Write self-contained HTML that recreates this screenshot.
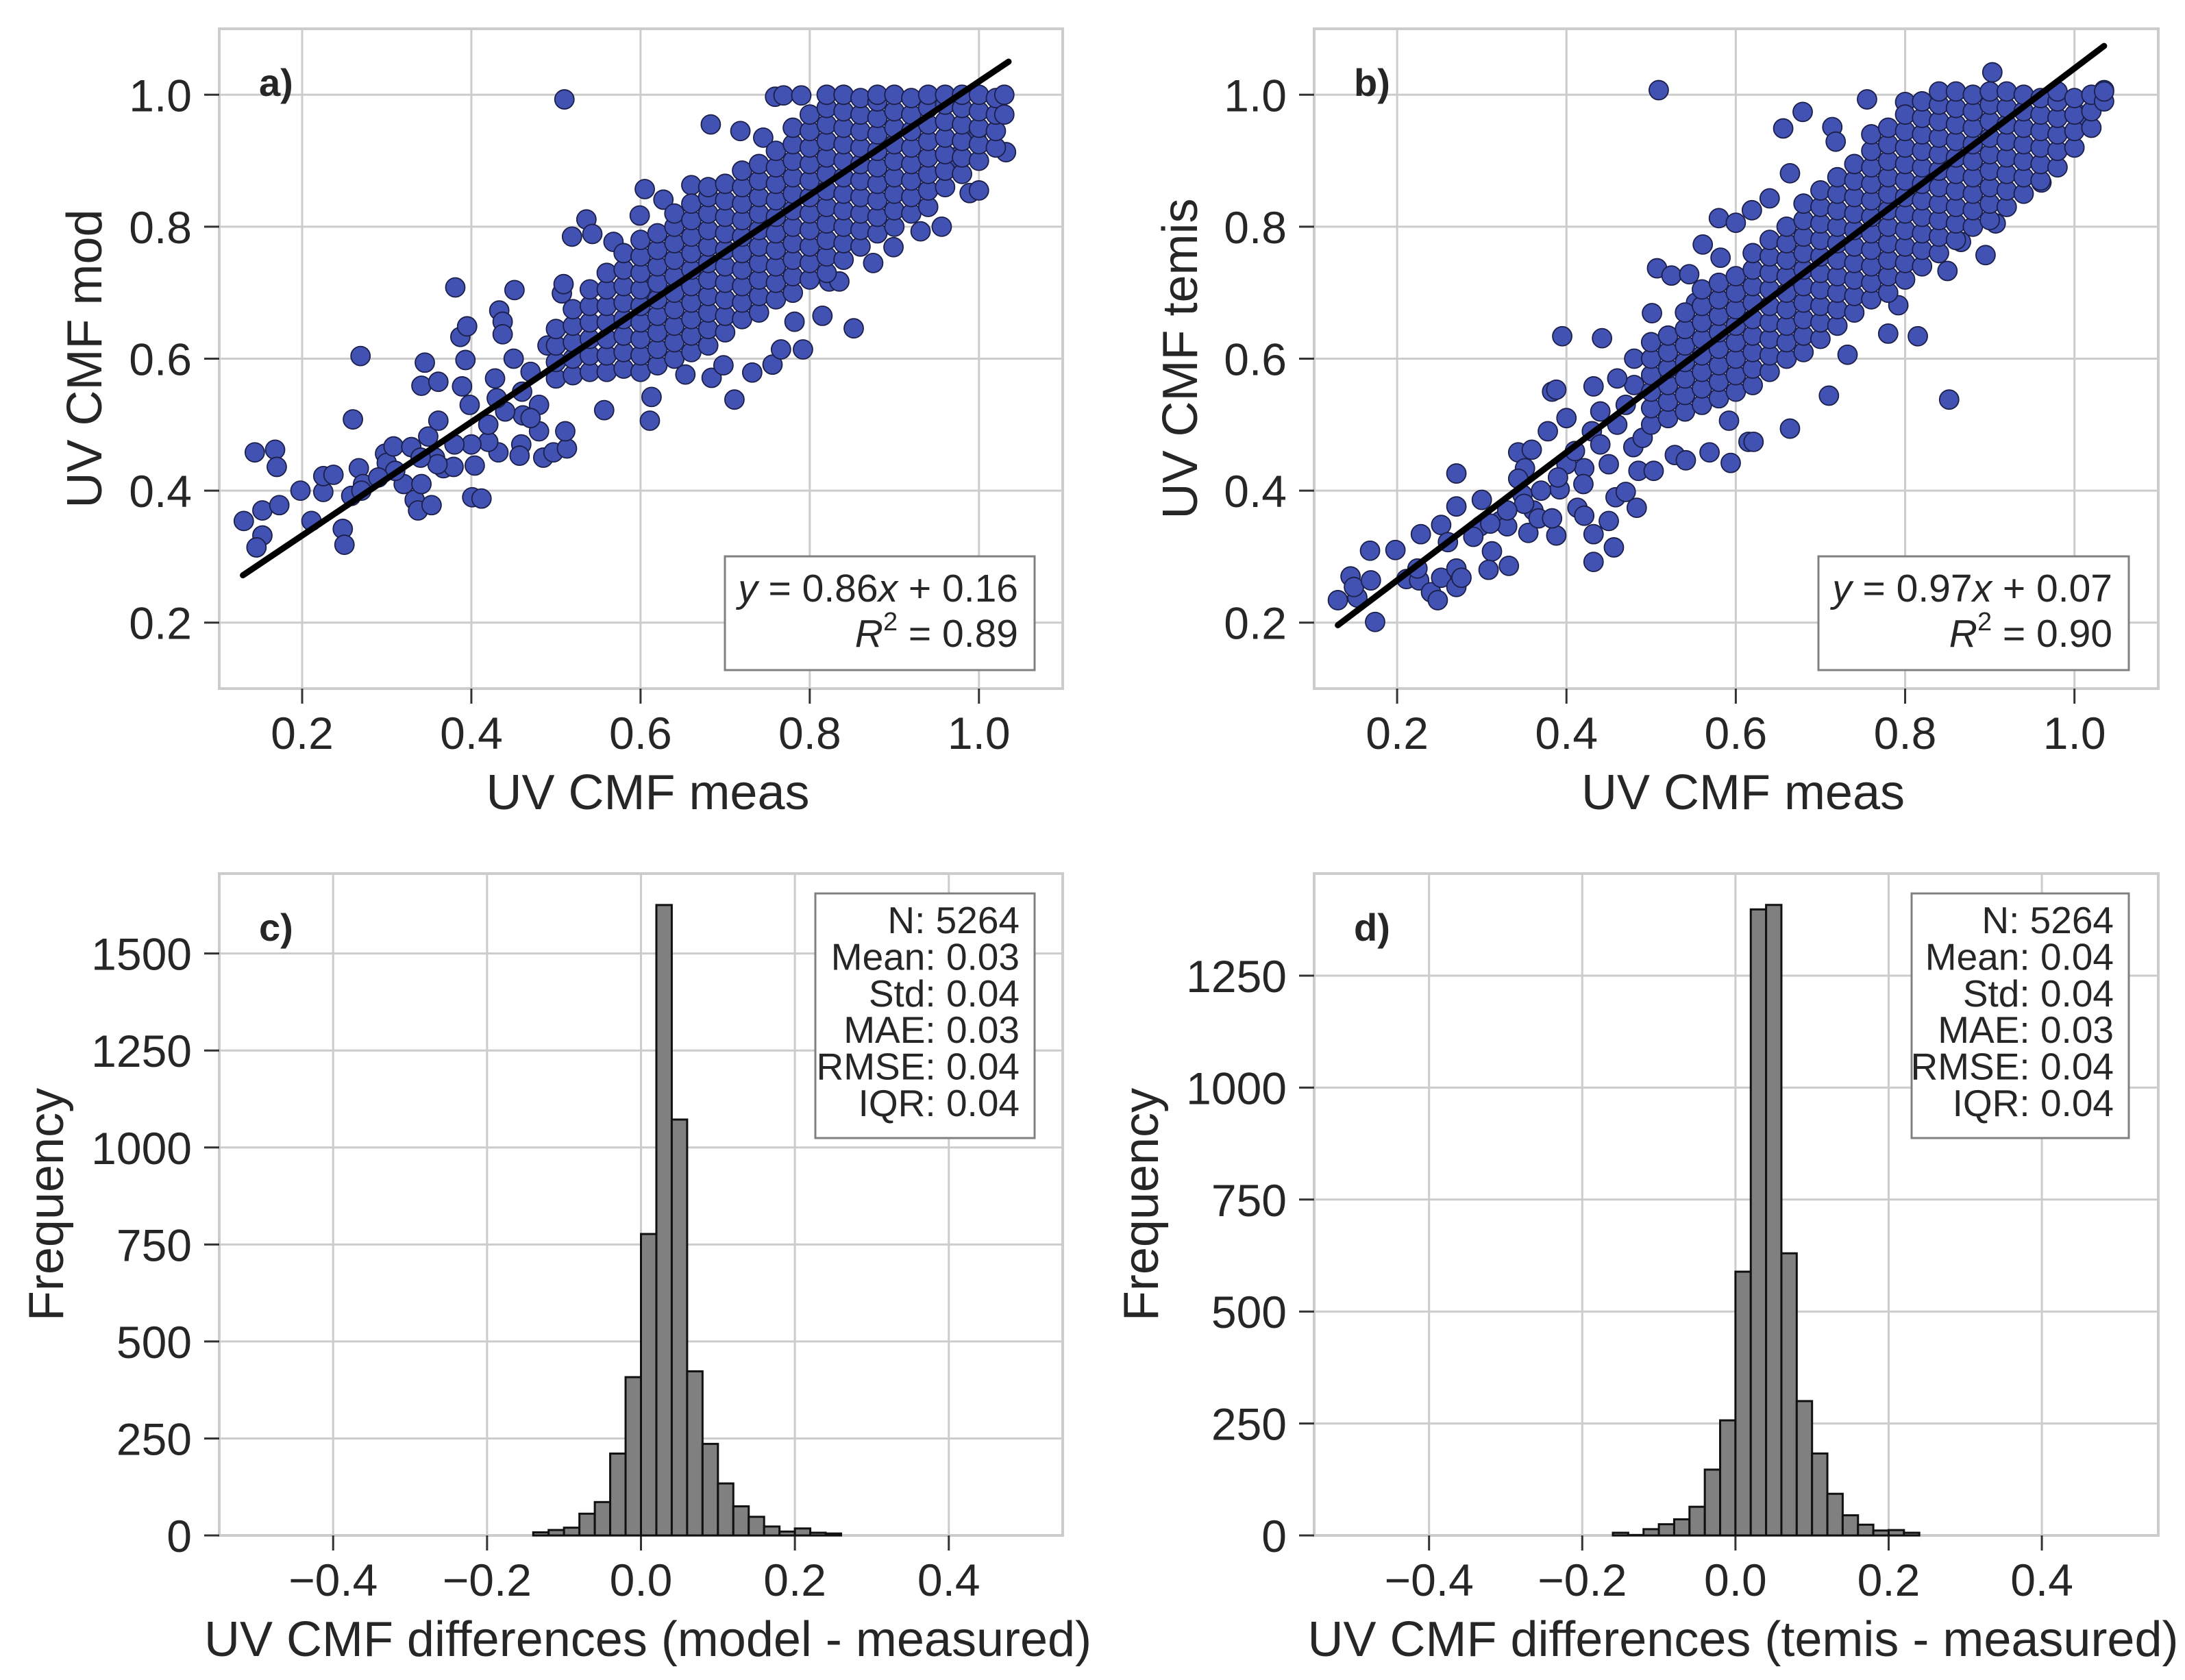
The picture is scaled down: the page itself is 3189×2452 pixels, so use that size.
<!DOCTYPE html>
<html><head><meta charset="utf-8"><style>
html,body{margin:0;padding:0;background:#fff}
svg{display:block;font-family:"Liberation Sans",Arial,sans-serif}
</style></head><body>
<svg id="fig" width="3189" height="2452" viewBox="0 0 3189 2452" xmlns="http://www.w3.org/2000/svg"></svg>
<script>
// ---------- DATA ----------
const scatterTicks = [0.2, 0.4, 0.6, 0.8, 1.0];
const scatterTickLabels = ["0.2", "0.4", "0.6", "0.8", "1.0"];
const histXTicks = [-0.4, -0.2, 0.0, 0.2, 0.4];
const histXTickLabels = ["\u22120.4", "\u22120.2", "0.0", "0.2", "0.4"];
const histCYTicks = [0, 250, 500, 750, 1000, 1250, 1500];
const histDYTicks = [0, 250, 500, 750, 1000, 1250];
const binWidth = 0.02;
const binStartsC = [-0.14,-0.12,-0.10,-0.08,-0.06,-0.04,-0.02,0.00,0.02,0.04,0.06,0.08,0.10,0.12,0.14,0.16,0.18,0.20,0.22,0.24];
const countsC = [8,14,20,56,86,211,408,777,1625,1072,423,236,134,75,48,23,10,18,7,5];
const binStartsD = [-0.16,-0.14,-0.12,-0.10,-0.08,-0.06,-0.04,-0.02,0.00,0.02,0.04,0.06,0.08,0.10,0.12,0.14,0.16,0.18,0.20,0.22];
const countsD = [6,1,14,25,36,64,147,257,589,1398,1408,630,300,183,93,45,24,11,12,6];
const fitA = [0.86, 0.16];
const fitB = [0.97, 0.07];
const fitRange = [0.13, 1.035];
const statsC = ["N: 5264","Mean: 0.03","Std: 0.04","MAE: 0.03","RMSE: 0.04","IQR: 0.04"];
const statsD = ["N: 5264","Mean: 0.04","Std: 0.04","MAE: 0.03","RMSE: 0.04","IQR: 0.04"];

const pointsA = [
[0.131,0.354],[0.144,0.458],[0.168,0.462],[0.170,0.436],[0.153,0.370],[0.173,0.378],[0.153,0.332],[0.146,0.314],[0.198,0.400],[0.211,0.354],
[0.225,0.398],[0.225,0.422],[0.237,0.424],[0.248,0.342],[0.250,0.318],[0.260,0.508],[0.269,0.604],[0.267,0.434],[0.258,0.392],[0.272,0.410],
[0.298,0.456],[0.300,0.442],[0.320,0.410],[0.308,0.467],[0.333,0.386],[0.337,0.370],[0.341,0.410],[0.353,0.378],[0.345,0.594],[0.341,0.559],
[0.329,0.466],[0.349,0.482],[0.357,0.450],[0.361,0.506],[0.361,0.565],[0.367,0.434],[0.381,0.708],[0.387,0.633],[0.395,0.649],[0.393,0.598],
[0.389,0.558],[0.398,0.530],[0.401,0.390],[0.412,0.388],[0.404,0.438],[0.379,0.436],[0.433,0.673],[0.437,0.656],[0.437,0.637],[0.451,0.704],
[0.428,0.570],[0.432,0.458],[0.420,0.474],[0.459,0.470],[0.457,0.453],[0.461,0.514],[0.485,0.450],[0.497,0.458],[0.507,0.699],[0.509,0.713],
[0.510,0.993],[0.513,0.464],[0.511,0.490],[0.519,0.785],[0.536,0.811],[0.543,0.789],[0.557,0.522],[0.568,0.777],[0.599,0.817],[0.605,0.857],
[0.609,0.705],[0.613,0.542],[0.611,0.506],[0.627,0.841],[0.653,0.576],[0.660,0.863],[0.683,0.955],[0.684,0.571],[0.698,0.590],[0.711,0.538],
[0.718,0.945],[0.732,0.579],[0.745,0.935],[0.756,0.591],[0.766,0.614],[0.782,0.656],[0.792,0.614],[0.759,0.997],[0.769,0.999],[0.790,0.999],
[0.815,0.665],[0.852,0.646],[0.823,0.717],[0.835,0.717],[0.875,0.745],[0.899,0.769],[0.931,0.793],[0.956,0.800],[0.989,0.851],[1.000,0.855],
[1.032,0.913],[0.997,0.933],[0.972,0.905],[0.44,0.52],[0.46,0.55],[0.47,0.58],[0.48,0.53],[0.45,0.60],[0.42,0.50],[0.40,0.47],
[0.38,0.47],[0.36,0.44],[0.34,0.45],[0.31,0.43],[0.29,0.42],[0.27,0.40],[0.49,0.62],[0.48,0.49],[0.47,0.51],[0.43,0.54],
[0.50,0.57],[0.50,0.595],[0.50,0.62],[0.50,0.645],
[0.52,0.575],[0.52,0.60],[0.52,0.625],[0.52,0.65],[0.52,0.675],
[0.54,0.58],[0.54,0.605],[0.54,0.63],[0.54,0.655],[0.54,0.68],[0.54,0.705],
[0.56,0.58],[0.56,0.605],[0.56,0.63],[0.56,0.655],[0.56,0.68],[0.56,0.705],[0.56,0.73],
[0.58,0.585],[0.58,0.61],[0.58,0.635],[0.58,0.66],[0.58,0.685],[0.58,0.71],[0.58,0.735],[0.58,0.76],
[0.60,0.58],[0.60,0.605],[0.60,0.63],[0.60,0.655],[0.60,0.68],[0.60,0.705],[0.60,0.73],[0.60,0.755],[0.60,0.78],
[0.62,0.59],[0.62,0.615],[0.62,0.64],[0.62,0.665],[0.62,0.69],[0.62,0.715],[0.62,0.74],[0.62,0.765],[0.62,0.79],
[0.64,0.60],[0.64,0.625],[0.64,0.65],[0.64,0.675],[0.64,0.70],[0.64,0.725],[0.64,0.75],[0.64,0.775],[0.64,0.80],[0.64,0.82],
[0.66,0.61],[0.66,0.635],[0.66,0.66],[0.66,0.685],[0.66,0.71],[0.66,0.735],[0.66,0.76],[0.66,0.785],[0.66,0.81],[0.66,0.835],
[0.68,0.62],[0.68,0.645],[0.68,0.67],[0.68,0.695],[0.68,0.72],[0.68,0.745],[0.68,0.77],[0.68,0.795],[0.68,0.82],[0.68,0.845],[0.68,0.86],
[0.70,0.64],[0.70,0.665],[0.70,0.69],[0.70,0.715],[0.70,0.74],[0.70,0.765],[0.70,0.79],[0.70,0.815],[0.70,0.84],[0.70,0.865],
[0.72,0.66],[0.72,0.685],[0.72,0.71],[0.72,0.735],[0.72,0.76],[0.72,0.785],[0.72,0.81],[0.72,0.835],[0.72,0.86],[0.72,0.885],
[0.74,0.67],[0.74,0.695],[0.74,0.72],[0.74,0.745],[0.74,0.77],[0.74,0.795],[0.74,0.82],[0.74,0.845],[0.74,0.87],[0.74,0.895],
[0.76,0.69],[0.76,0.715],[0.76,0.74],[0.76,0.765],[0.76,0.79],[0.76,0.815],[0.76,0.84],[0.76,0.865],[0.76,0.89],[0.76,0.915],
[0.78,0.70],[0.78,0.725],[0.78,0.75],[0.78,0.775],[0.78,0.80],[0.78,0.825],[0.78,0.85],[0.78,0.875],[0.78,0.90],[0.78,0.925],[0.78,0.95],
[0.80,0.72],[0.80,0.745],[0.80,0.77],[0.80,0.795],[0.80,0.82],[0.80,0.845],[0.80,0.87],[0.80,0.895],[0.80,0.92],[0.80,0.945],[0.80,0.97],
[0.82,0.73],[0.82,0.755],[0.82,0.78],[0.82,0.805],[0.82,0.83],[0.82,0.855],[0.82,0.88],[0.82,0.905],[0.82,0.93],[0.82,0.955],[0.82,0.98],[0.82,1.0],
[0.84,0.75],[0.84,0.775],[0.84,0.80],[0.84,0.825],[0.84,0.85],[0.84,0.875],[0.84,0.90],[0.84,0.925],[0.84,0.95],[0.84,0.975],[0.84,1.0],
[0.86,0.77],[0.86,0.795],[0.86,0.82],[0.86,0.845],[0.86,0.87],[0.86,0.895],[0.86,0.92],[0.86,0.945],[0.86,0.97],[0.86,0.995],
[0.88,0.79],[0.88,0.815],[0.88,0.84],[0.88,0.865],[0.88,0.89],[0.88,0.915],[0.88,0.94],[0.88,0.965],[0.88,0.99],[0.88,1.0],
[0.90,0.80],[0.90,0.825],[0.90,0.85],[0.90,0.875],[0.90,0.90],[0.90,0.925],[0.90,0.95],[0.90,0.975],[0.90,1.0],
[0.92,0.82],[0.92,0.845],[0.92,0.87],[0.92,0.895],[0.92,0.92],[0.92,0.945],[0.92,0.97],[0.92,0.995],
[0.94,0.83],[0.94,0.855],[0.94,0.88],[0.94,0.905],[0.94,0.93],[0.94,0.955],[0.94,0.98],[0.94,1.0],
[0.96,0.86],[0.96,0.885],[0.96,0.91],[0.96,0.935],[0.96,0.96],[0.96,0.985],[0.96,1.0],
[0.98,0.88],[0.98,0.905],[0.98,0.93],[0.98,0.955],[0.98,0.98],[0.98,1.0],
[1.00,0.90],[1.00,0.925],[1.00,0.95],[1.00,0.975],[1.00,1.0],
[1.02,0.92],[1.02,0.945],[1.02,0.97],[1.02,0.995],[1.03,1.0],[1.03,0.97]
];

const pointsB = [
[0.130,0.234],[0.145,0.270],[0.153,0.238],[0.149,0.254],[0.168,0.309],[0.169,0.264],[0.174,0.201],[0.198,0.310],[0.211,0.266],[0.226,0.264],
[0.228,0.334],[0.224,0.282],[0.240,0.246],[0.248,0.234],[0.252,0.268],[0.252,0.348],[0.260,0.322],[0.270,0.426],[0.270,0.376],[0.270,0.282],
[0.270,0.254],[0.276,0.268],[0.300,0.386],[0.298,0.346],[0.312,0.308],[0.308,0.280],[0.322,0.354],[0.330,0.346],[0.332,0.286],[0.343,0.458],
[0.351,0.434],[0.343,0.418],[0.348,0.394],[0.355,0.336],[0.361,0.370],[0.367,0.358],[0.359,0.462],[0.378,0.490],[0.383,0.550],[0.388,0.553],
[0.395,0.634],[0.392,0.402],[0.388,0.332],[0.383,0.358],[0.413,0.374],[0.421,0.362],[0.400,0.510],[0.421,0.434],[0.432,0.334],[0.432,0.292],
[0.442,0.631],[0.432,0.558],[0.430,0.490],[0.456,0.314],[0.450,0.354],[0.458,0.390],[0.470,0.398],[0.483,0.374],[0.485,0.430],[0.479,0.466],
[0.501,0.669],[0.503,0.430],[0.507,0.737],[0.509,1.007],[0.524,0.726],[0.528,0.454],[0.541,0.446],[0.545,0.728],[0.553,0.685],[0.569,0.458],
[0.561,0.773],[0.580,0.813],[0.582,0.753],[0.592,0.506],[0.594,0.442],[0.600,0.806],[0.615,0.474],[0.621,0.474],[0.619,0.825],[0.640,0.843],
[0.656,0.949],[0.664,0.881],[0.664,0.494],[0.679,0.974],[0.710,0.544],[0.714,0.951],[0.718,0.929],[0.732,0.606],[0.755,0.993],[0.780,0.638],
[0.792,0.681],[0.815,0.634],[0.800,0.989],[0.852,0.538],[0.850,0.733],[0.866,0.777],[0.895,0.757],[0.907,0.805],[0.903,1.034],[0.961,0.867],
[1.035,1.007],[1.007,0.969],[0.44,0.47],[0.46,0.50],[0.47,0.53],[0.48,0.56],[0.45,0.44],[0.42,0.41],[0.40,0.44],[0.37,0.40],
[0.35,0.38],[0.33,0.37],[0.31,0.35],[0.29,0.33],[0.49,0.48],[0.48,0.60],[0.46,0.57],[0.44,0.52],[0.41,0.46],[0.39,0.42],
[0.50,0.50],[0.50,0.525],[0.50,0.55],[0.50,0.575],[0.50,0.60],[0.50,0.625],
[0.52,0.51],[0.52,0.535],[0.52,0.56],[0.52,0.585],[0.52,0.61],[0.52,0.635],
[0.54,0.52],[0.54,0.545],[0.54,0.57],[0.54,0.595],[0.54,0.62],[0.54,0.645],[0.54,0.67],
[0.56,0.53],[0.56,0.555],[0.56,0.58],[0.56,0.605],[0.56,0.63],[0.56,0.655],[0.56,0.68],[0.56,0.705],
[0.58,0.54],[0.58,0.565],[0.58,0.59],[0.58,0.615],[0.58,0.64],[0.58,0.665],[0.58,0.69],[0.58,0.715],
[0.60,0.55],[0.60,0.575],[0.60,0.60],[0.60,0.625],[0.60,0.65],[0.60,0.675],[0.60,0.70],[0.60,0.725],
[0.62,0.56],[0.62,0.585],[0.62,0.61],[0.62,0.635],[0.62,0.66],[0.62,0.685],[0.62,0.71],[0.62,0.735],[0.62,0.76],
[0.64,0.58],[0.64,0.605],[0.64,0.63],[0.64,0.655],[0.64,0.68],[0.64,0.705],[0.64,0.73],[0.64,0.755],[0.64,0.78],
[0.66,0.60],[0.66,0.625],[0.66,0.65],[0.66,0.675],[0.66,0.70],[0.66,0.725],[0.66,0.75],[0.66,0.775],[0.66,0.80],
[0.68,0.61],[0.68,0.635],[0.68,0.66],[0.68,0.685],[0.68,0.71],[0.68,0.735],[0.68,0.76],[0.68,0.785],[0.68,0.81],[0.68,0.835],
[0.70,0.63],[0.70,0.655],[0.70,0.68],[0.70,0.705],[0.70,0.73],[0.70,0.755],[0.70,0.78],[0.70,0.805],[0.70,0.83],[0.70,0.855],
[0.72,0.65],[0.72,0.675],[0.72,0.70],[0.72,0.725],[0.72,0.75],[0.72,0.775],[0.72,0.80],[0.72,0.825],[0.72,0.85],[0.72,0.875],
[0.74,0.67],[0.74,0.695],[0.74,0.72],[0.74,0.745],[0.74,0.77],[0.74,0.795],[0.74,0.82],[0.74,0.845],[0.74,0.87],[0.74,0.895],
[0.76,0.69],[0.76,0.715],[0.76,0.74],[0.76,0.765],[0.76,0.79],[0.76,0.815],[0.76,0.84],[0.76,0.865],[0.76,0.89],[0.76,0.915],[0.76,0.94],
[0.78,0.70],[0.78,0.725],[0.78,0.75],[0.78,0.775],[0.78,0.80],[0.78,0.825],[0.78,0.85],[0.78,0.875],[0.78,0.90],[0.78,0.925],[0.78,0.95],
[0.80,0.72],[0.80,0.745],[0.80,0.77],[0.80,0.795],[0.80,0.82],[0.80,0.845],[0.80,0.87],[0.80,0.895],[0.80,0.92],[0.80,0.945],[0.80,0.97],
[0.82,0.74],[0.82,0.765],[0.82,0.79],[0.82,0.815],[0.82,0.84],[0.82,0.865],[0.82,0.89],[0.82,0.915],[0.82,0.94],[0.82,0.965],[0.82,0.99],
[0.84,0.76],[0.84,0.785],[0.84,0.81],[0.84,0.835],[0.84,0.86],[0.84,0.885],[0.84,0.91],[0.84,0.935],[0.84,0.96],[0.84,0.985],[0.84,1.005],
[0.86,0.78],[0.86,0.805],[0.86,0.83],[0.86,0.855],[0.86,0.88],[0.86,0.905],[0.86,0.93],[0.86,0.955],[0.86,0.98],[0.86,1.005],
[0.88,0.80],[0.88,0.825],[0.88,0.85],[0.88,0.875],[0.88,0.90],[0.88,0.925],[0.88,0.95],[0.88,0.975],[0.88,1.0],
[0.90,0.81],[0.90,0.835],[0.90,0.86],[0.90,0.885],[0.90,0.91],[0.90,0.935],[0.90,0.96],[0.90,0.985],[0.90,1.005],
[0.92,0.83],[0.92,0.855],[0.92,0.88],[0.92,0.905],[0.92,0.93],[0.92,0.955],[0.92,0.98],[0.92,1.005],
[0.94,0.85],[0.94,0.875],[0.94,0.90],[0.94,0.925],[0.94,0.95],[0.94,0.975],[0.94,1.0],
[0.96,0.87],[0.96,0.895],[0.96,0.92],[0.96,0.945],[0.96,0.97],[0.96,0.995],
[0.98,0.89],[0.98,0.915],[0.98,0.94],[0.98,0.965],[0.98,0.99],[0.98,1.005],
[1.00,0.92],[1.00,0.945],[1.00,0.97],[1.00,0.995],
[1.02,0.95],[1.02,0.975],[1.02,1.0],[1.035,0.99],[1.035,1.005]
];

// ---------- RENDER ----------
const NS = "http://www.w3.org/2000/svg";
const svg = document.getElementById("fig");
function mk(tag, attrs, parent) {
  const e = document.createElementNS(NS, tag);
  for (const k in attrs) e.setAttribute(k, attrs[k]);
  (parent || svg).appendChild(e);
  return e;
}
function scale(d0, d1, r0, r1) { return v => r0 + (v - d0) / (d1 - d0) * (r1 - r0); }
const TXT = "#262626", GRID = "#cccccc";

function axesFrame(g, p, sx, sy, xt, xtl, yt, ytl, ytitle, xtitle, ytitleX, letter) {
  const grid = mk("g", {}, g);
  
  
  xt.forEach(v => mk("line", {x1: sx(v), x2: sx(v), y1: p.t, y2: p.b, stroke: GRID, "stroke-width": 3}, grid));
  yt.forEach(v => mk("line", {x1: p.l, x2: p.r, y1: sy(v), y2: sy(v), stroke: GRID, "stroke-width": 3}, grid));
  const frame = mk("rect", {x: p.l, y: p.t, width: p.r - p.l, height: p.b - p.t, fill: "none", stroke: GRID, "stroke-width": 4}, g);
  
  
  const xa = mk("g", {}, g);
  
  
  xt.forEach((v, i) => {
    mk("line", {x1: sx(v), x2: sx(v), y1: p.b, y2: p.b + 22, stroke: "#333", "stroke-width": 3}, xa);
    const t = mk("text", {x: sx(v), y: p.b + 88, "text-anchor": "middle", "font-size": 66, fill: TXT}, xa);
    t.textContent = xtl[i];
    
    
  });
  const ya = mk("g", {}, g);
  
  
  yt.forEach((v, i) => {
    mk("line", {x1: p.l - 22, x2: p.l, y1: sy(v), y2: sy(v), stroke: "#333", "stroke-width": 3}, ya);
    const t = mk("text", {x: p.l - 40, y: sy(v) + 24, "text-anchor": "end", "font-size": 66, fill: TXT}, ya);
    t.textContent = ytl[i];
    
    
  });
  const xtt = mk("text", {x: (p.l + p.r) / 2 + 10, y: p.b + 176, "text-anchor": "middle", "font-size": 72, fill: TXT}, g);
  xtt.textContent = xtitle;
  
  
  const cy = (p.t + p.b) / 2;
  const ytt = mk("text", {x: ytitleX, y: cy, "text-anchor": "middle", "font-size": 72, fill: TXT, transform: `rotate(-90 ${ytitleX} ${cy})`, dy: 25}, g);
  ytt.textContent = ytitle;
  
  
  const lab = mk("text", {x: p.l + 58, y: p.t + 98, "font-size": 56, "font-weight": "bold", fill: TXT}, g);
  lab.textContent = letter;
  
  
}

function scatterPanel(name, p, pts, fit, ytitle, ytitleX, letter, eqText, r2Text, box) {
  const g = mk("g", {});
  
  
  const sx = scale(0.102, 1.099, p.l, p.r), sy = scale(0.1, 1.1, p.b, p.t);
  axesFrame(g, p, sx, sy, scatterTicks, scatterTickLabels, scatterTicks, scatterTickLabels, ytitle, "UV CMF meas", ytitleX, letter);
  const pg = mk("g", {}, g);
  
  
  pts.forEach(d => {
    const c = mk("circle", {cx: sx(d[0]), cy: sy(d[1]), r: 14, fill: "#4152b3", stroke: "#1c1f4a", "stroke-width": 1.8}, pg);
    
    
  });
  const ln = mk("line", {x1: sx(fitRange[0]), y1: sy(fit[0] * fitRange[0] + fit[1]), x2: sx(fitRange[1]), y2: sy(fit[0] * fitRange[1] + fit[1]), stroke: "#000", "stroke-width": 9, "stroke-linecap": "round"}, g);
  
  
  const bg = mk("g", {}, g);
  
  
  mk("rect", {x: box[0], y: box[1], width: box[2], height: box[3], fill: "#fff", stroke: "#808080", "stroke-width": 3}, bg);
  const t1 = mk("text", {x: box[0] + box[2] - 24, y: box[1] + 66, "text-anchor": "end", "font-size": 57, fill: TXT}, bg);
  t1.innerHTML = eqText;
  
  
  const t2 = mk("text", {x: box[0] + box[2] - 24, y: box[1] + 132, "text-anchor": "end", "font-size": 57, fill: TXT}, bg);
  t2.innerHTML = r2Text;
  
  
}

function histPanel(name, p, xd, ymax, starts, counts, yt, xtitle, letter, stats, box) {
  const g = mk("g", {});
  
  
  const sx = scale(xd[0], xd[1], p.l, p.r), sy = scale(0, ymax, p.b, p.t);
  axesFrame(g, p, sx, sy, histXTicks, histXTickLabels, yt, yt.map(String), "Frequency", xtitle, 67 + (p.l - 320), letter);
  const bars = mk("g", {}, g);
  
  
  starts.forEach((s, i) => {
    const x0 = sx(s), x1 = sx(s + binWidth), y = sy(counts[i]);
    const b = mk("rect", {x: x0, y: y, width: x1 - x0, height: p.b - y, fill: "#808080", stroke: "#111", "stroke-width": 3}, bars);
    
    
  });
  const sg = mk("g", {}, g);
  
  
  mk("rect", {x: box[0], y: box[1], width: box[2], height: box[3], fill: "#fff", stroke: "#808080", "stroke-width": 3}, sg);
  stats.forEach((s, i) => {
    const t = mk("text", {x: box[0] + box[2] - 22, y: box[1] + 58 + i * 53.4, "text-anchor": "end", "font-size": 55, fill: TXT}, sg);
    t.textContent = s;
    
    
  });
}

scatterPanel("panel-a-scatter", {l: 320, r: 1551, t: 42, b: 1005}, pointsA, fitA, "UV CMF mod", 123, "a)",
  '<tspan font-style="italic">y</tspan> = 0.86<tspan font-style="italic">x</tspan> + 0.16',
  '<tspan font-style="italic">R</tspan><tspan dy="-24" font-size="38">2</tspan><tspan dy="24"> = 0.89</tspan>',
  [1058, 812, 452, 166]);
scatterPanel("panel-b-scatter", {l: 1918, r: 3150, t: 42, b: 1005}, pointsB, fitB, "UV CMF temis", 1722, "b)",
  '<tspan font-style="italic">y</tspan> = 0.97<tspan font-style="italic">x</tspan> + 0.07',
  '<tspan font-style="italic">R</tspan><tspan dy="-24" font-size="38">2</tspan><tspan dy="24"> = 0.90</tspan>',
  [2654, 812, 453, 166]);
histPanel("panel-c-histogram", {l: 320, r: 1551, t: 1275, b: 2241}, [-0.548, 0.548], 1706, binStartsC, countsC, histCYTicks,
  "UV CMF differences (model - measured)", "c)", statsC, [1190, 1304, 320, 357]);
histPanel("panel-d-histogram", {l: 1918, r: 3150, t: 1275, b: 2241}, [-0.55, 0.552], 1478, binStartsD, countsD, histDYTicks,
  "UV CMF differences (temis - measured)", "d)", statsD, [2790, 1304, 317, 357]);
</script>
</body></html>
